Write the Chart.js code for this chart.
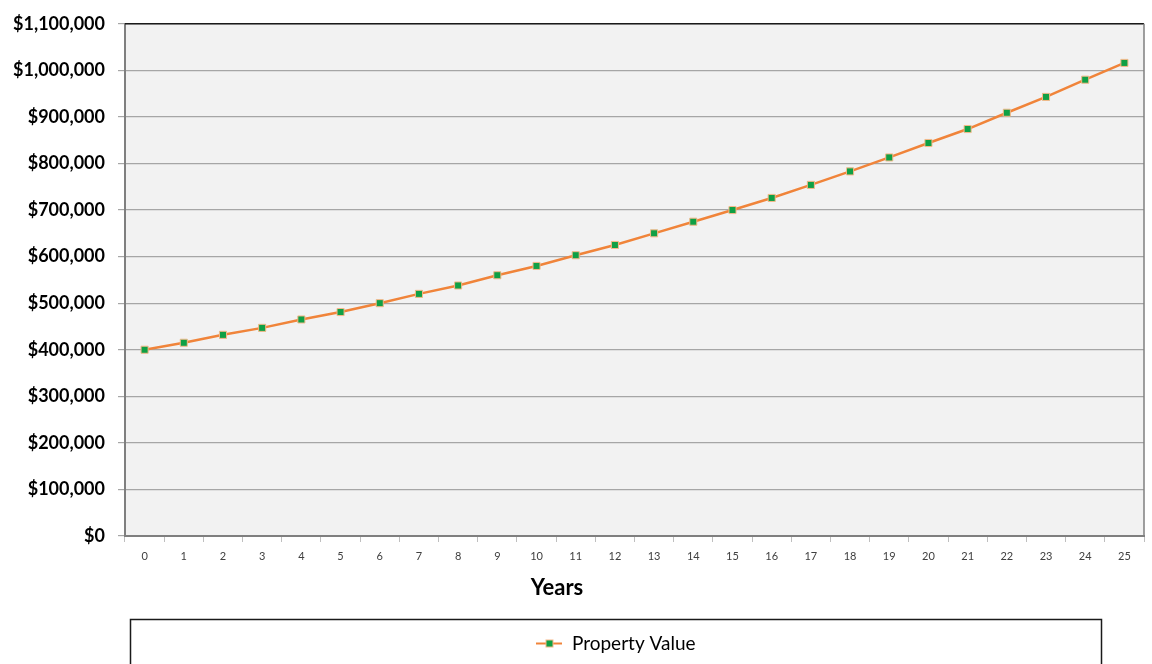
<!DOCTYPE html>
<html>
<head>
<meta charset="utf-8">
<script src="https://cdn.jsdelivr.net/npm/chart.js@4/dist/chart.umd.min.js"></script>
<style>
  html, body { margin: 0; padding: 0; background: #ffffff; }
  #wrap { position: relative; width: 1152px; height: 664px; }
</style>
</head>
<body>
<div id="wrap"><canvas id="c" width="1152" height="664"></canvas></div>
<script>
const years = ['0','1','2','3','4','5','6','7','8','9','10','11','12','13','14','15','16','17','18','19','20','21','22','23','24','25'];
const propertyValues = [400000, 415000, 432000, 447000, 465000, 481000, 500000, 520000, 538000, 560000, 580000, 603000, 625000, 650000, 675000, 700000, 726000, 754000, 783000, 813000, 844000, 874000, 909000, 943000, 980000, 1016000];
const seriesLabel = 'Property Value';
const xTitle = 'Years';
const yMin = 0, yMax = 1100000, yStep = 100000;

const FONT = 'Lato, "Open Sans", "DejaVu Sans", sans-serif';
const LINE_COLOR = '#F0843A';
const POINT_FILL = '#0FA045';
const POINT_BORDER = '#F5B98A';

// legend marker image: line with a square
const marker = document.createElement('canvas');
marker.width = 26; marker.height = 10;
(function () {
  const m = marker.getContext('2d');
  m.strokeStyle = LINE_COLOR; m.lineWidth = 2;
  m.beginPath(); m.moveTo(0, 5); m.lineTo(26, 5); m.stroke();
  m.fillStyle = POINT_BORDER; m.fillRect(9, 1, 8, 8);
  m.fillStyle = POINT_FILL; m.fillRect(10, 2, 6, 6);
})();

const framePlugin = {
  id: 'frame',
  afterLayout(chart) {
    if (chart.legend) { chart.legend.left = 88; }
  },
  beforeDraw(chart) {
    const {ctx, chartArea: a} = chart;
    ctx.save();
    ctx.fillStyle = '#F2F2F2';
    ctx.fillRect(a.left, a.top, a.right - a.left, a.bottom - a.top);
    ctx.restore();
  },
  afterDraw(chart) {
    const {ctx, chartArea: a} = chart;
    ctx.save();
    // top border (dark) and right border (gray)
    ctx.strokeStyle = '#1a1a1a'; ctx.lineWidth = 1.5;
    ctx.beginPath(); ctx.moveTo(a.left, a.top); ctx.lineTo(a.right, a.top); ctx.stroke();
    ctx.strokeStyle = '#7f7f7f'; ctx.lineWidth = 1.5;
    ctx.beginPath(); ctx.moveTo(a.right, a.top); ctx.lineTo(a.right, a.bottom); ctx.stroke();
    // x axis title
    ctx.fillStyle = '#000000';
    ctx.font = 'bold 22px ' + FONT;
    ctx.textAlign = 'center'; ctx.textBaseline = 'middle';
    ctx.fillText(xTitle, 557, 588);
    // legend box
    ctx.strokeStyle = '#1a1a1a'; ctx.lineWidth = 1.5;
    ctx.strokeRect(130.5, 619.5, 971, 70);
    ctx.restore();
  }
};

new Chart(document.getElementById('c'), {
  type: 'line',
  data: {
    labels: years,
    datasets: [{
      label: seriesLabel,
      data: propertyValues,
      borderColor: LINE_COLOR,
      backgroundColor: POINT_FILL,
      borderWidth: 2.5,
      tension: 0,
      pointStyle: 'rect',
      pointRadius: 5,
      pointBackgroundColor: POINT_FILL,
      pointBorderColor: POINT_BORDER,
      pointBorderWidth: 1,
      fill: false
    }]
  },
  options: {
    responsive: false,
    animation: false,
    devicePixelRatio: 1,
    layout: { padding: { left: 0, right: 8, top: 23, bottom: 1 } },
    plugins: {
      tooltip: { enabled: false },
      legend: {
        display: true,
        position: 'bottom',
        labels: {
          usePointStyle: true,
          pointStyle: marker,
          pointStyleWidth: 26,
          padding: 10,
          color: '#262626',
          font: { family: FONT, size: 19 },
          generateLabels(chart) {
            return [{ text: seriesLabel, pointStyle: marker, fillStyle: POINT_FILL, strokeStyle: LINE_COLOR, lineWidth: 0, hidden: false, datasetIndex: 0 }];
          }
        }
      }
    },
    scales: {
      x: {
        type: 'category',
        offset: true,
        afterFit(scale) { scale.height = 88; },
        grid: {
          offset: true,
          drawOnChartArea: false,
          drawTicks: true,
          tickLength: 6,
          color: '#bfbfbf'
        },
        border: { display: true, color: '#7f7f7f', width: 2 },
        ticks: {
          color: '#404040',
          font: { family: FONT, size: 11 },
          padding: 8,
          maxRotation: 0,
          autoSkip: false
        },
        title: { display: false, text: xTitle }
      },
      y: {
        min: yMin,
        max: yMax,
        afterFit(scale) { scale.width = 125; },
        grid: {
          color: '#a6a6a6',
          lineWidth: 1.2,
          drawTicks: true,
          tickLength: 7
        },
        border: { display: true, color: '#7f7f7f', width: 2 },
        ticks: {
          stepSize: yStep,
          color: '#000000',
          padding: 13,
          font: { family: FONT, size: 18, weight: 'bold' },
          callback: v => '$' + Number(v).toLocaleString('en-US')
        }
      }
    }
  },
  plugins: [framePlugin]
});
</script>
</body>
</html>
